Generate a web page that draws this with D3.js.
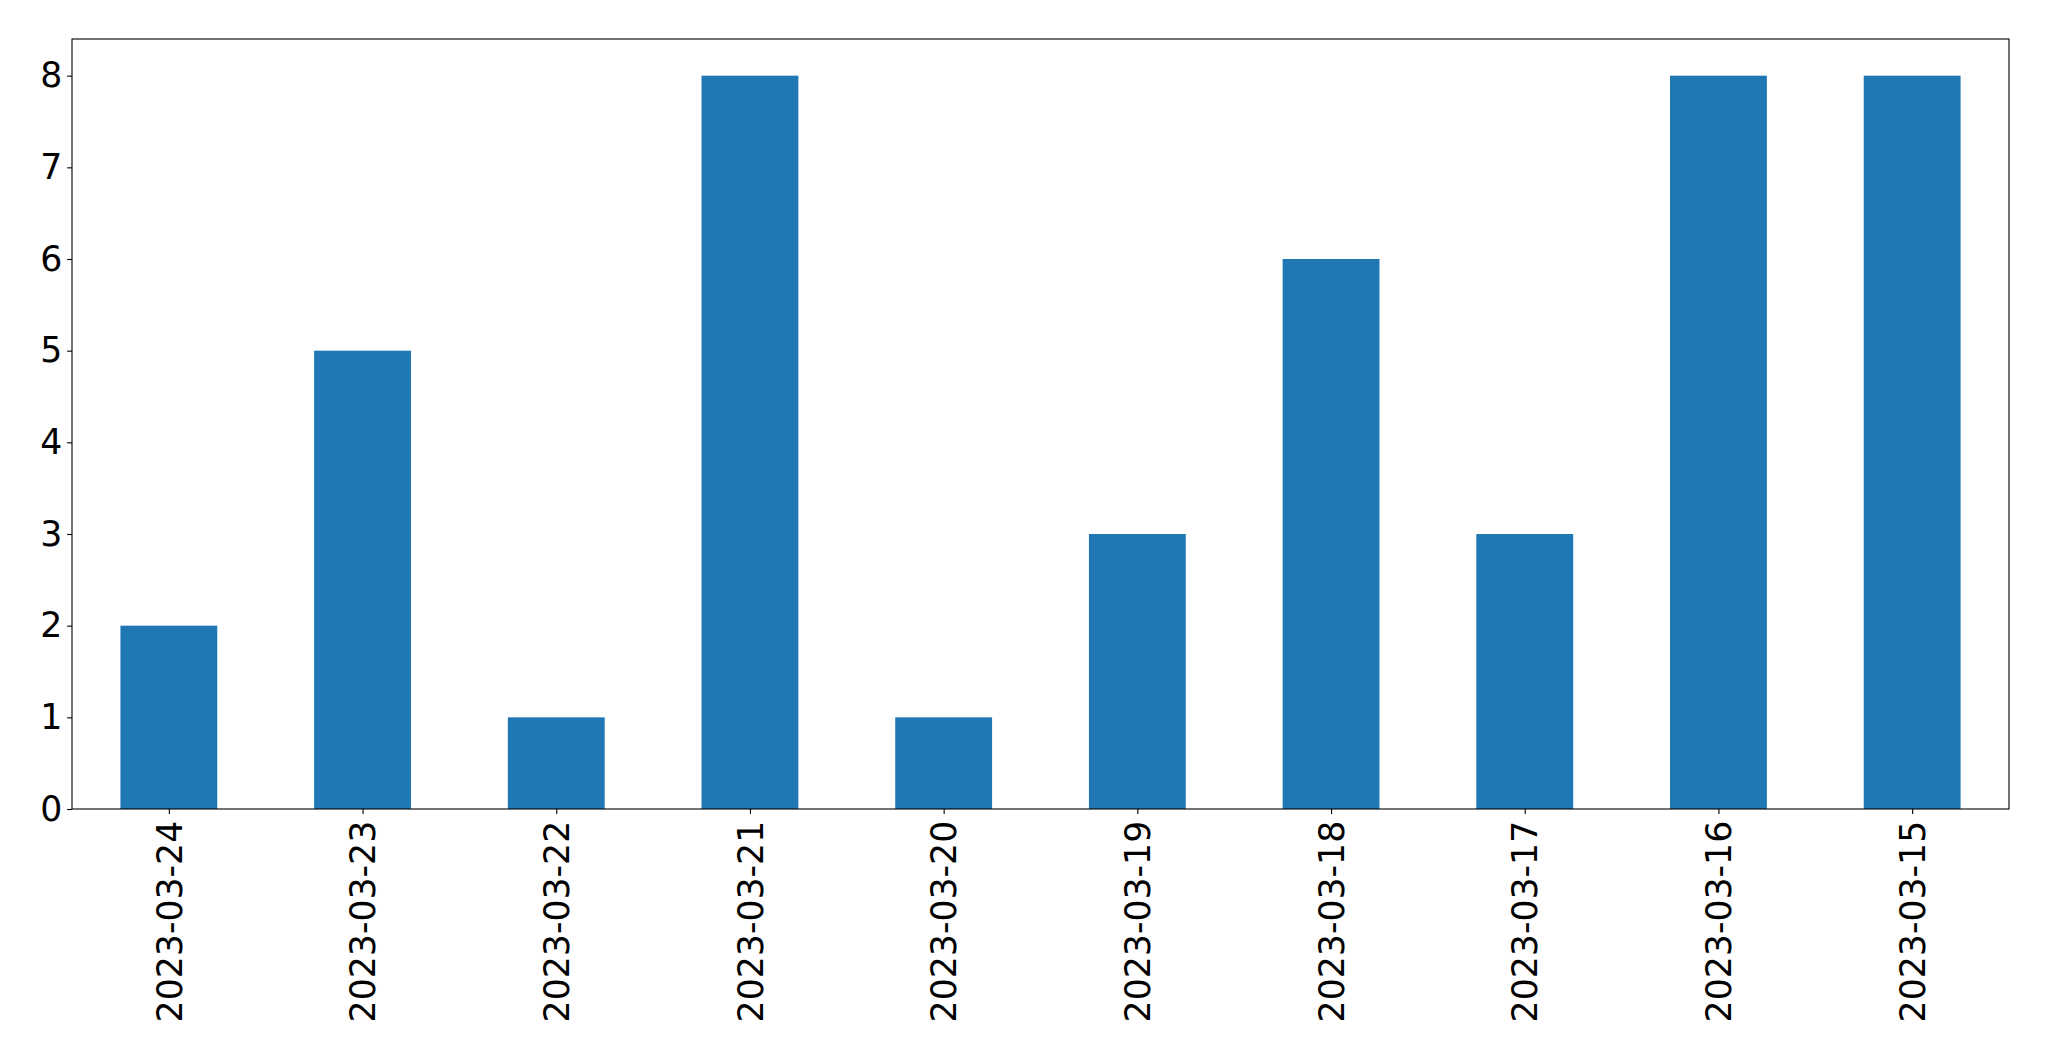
<!DOCTYPE html>
<html><head><meta charset="utf-8">
<script src="https://cdn.jsdelivr.net/npm/d3@7"></script>
<style>body{margin:0;background:#fff}svg{display:block}</style>
</head><body>
<script>
const categories = ["2023-03-24","2023-03-23","2023-03-22","2023-03-21","2023-03-20","2023-03-19","2023-03-18","2023-03-17","2023-03-16","2023-03-15"];
const values = [2,5,1,8,1,3,6,3,8,8];
const yTicks = [0,1,2,3,4,5,6,7,8];

const W = 2049, H = 1061;
const m = {left:72, top:39, right:2049-2009, bottom:1061-809};
const iw = W - m.left - m.right, ih = H - m.top - m.bottom;
const svg = d3.select("body").append("svg").attr("width",W).attr("height",H);
const g = svg.append("g").attr("transform",`translate(${m.left},${m.top})`);

const x = d3.scaleLinear().domain([-0.5, categories.length - 0.5]).range([0, iw]);
const y = d3.scaleLinear().domain([0, 8.4]).range([ih, 0]);
const bw = 0.5;

g.selectAll("rect.bar").data(values).join("rect").attr("class","bar")
  .attr("x",(d,i)=>x(i - bw/2)).attr("width",(d,i)=>x(i+bw/2)-x(i-bw/2))
  .attr("y",d=>y(d)).attr("height",d=>y(0)-y(d)).attr("fill","#1f77b4");

const font = "'DejaVu Sans', sans-serif";
const fs = 34.7;
const yAxis = g.append("g").call(d3.axisLeft(y).tickValues(yTicks).tickFormat(d3.format("d")).tickSize(4.9).tickPadding(4.9));
const xAxis = g.append("g").attr("transform",`translate(0,${ih})`)
  .call(d3.axisBottom(x).tickValues(d3.range(categories.length)).tickFormat(i=>categories[i]).tickSize(4.9).tickPadding(4.9));
[yAxis,xAxis].forEach(a=>{
  a.select(".domain").remove();
  a.selectAll(".tick line").attr("stroke","#000").attr("stroke-width",1.1);
  a.selectAll("text").attr("font-family",font).attr("font-size",fs).attr("fill","#000");
});
xAxis.selectAll("text").attr("transform","rotate(-90)").attr("text-anchor","end")
  .attr("x",-(4.9+4.9+2)).attr("y",0).attr("dy","0.35em");

g.append("rect").attr("x",0).attr("y",0).attr("width",iw).attr("height",ih)
  .attr("fill","none").attr("stroke","#000").attr("stroke-width",1.1);
</script>
</body></html>
